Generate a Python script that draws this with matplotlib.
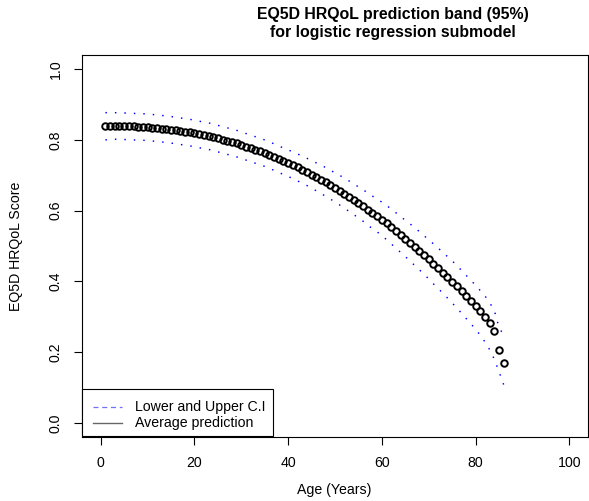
import matplotlib
matplotlib.use('Agg')
import matplotlib.pyplot as plt
from matplotlib.lines import Line2D
from matplotlib.patches import Rectangle

# ---- data ----
age = list(range(1, 87))
pred = [0.840, 0.840, 0.840, 0.839, 0.839, 0.839, 0.838, 0.837, 0.837, 0.836,
        0.835, 0.833, 0.832, 0.831, 0.829, 0.827, 0.825, 0.823, 0.821, 0.819,
        0.816, 0.813, 0.811, 0.808, 0.804, 0.801, 0.797, 0.794, 0.790, 0.786,
        0.781, 0.777, 0.772, 0.768, 0.763, 0.757, 0.752, 0.746, 0.740, 0.735,
        0.728, 0.722, 0.716, 0.709, 0.702, 0.694, 0.687, 0.680, 0.672, 0.664,
        0.656, 0.647, 0.639, 0.630, 0.621, 0.612, 0.602, 0.593, 0.584, 0.574,
        0.564, 0.553, 0.542, 0.531, 0.520, 0.509, 0.497, 0.486, 0.474, 0.462,
        0.449, 0.437, 0.425, 0.412, 0.399, 0.386, 0.372, 0.358, 0.344, 0.330,
        0.315, 0.300, 0.281, 0.259, 0.206, 0.169]
upper = [0.877, 0.877, 0.877, 0.876, 0.876, 0.876, 0.875, 0.874, 0.874, 0.873,
         0.872, 0.870, 0.869, 0.868, 0.866, 0.864, 0.862, 0.860, 0.858, 0.856,
         0.853, 0.850, 0.848, 0.845, 0.841, 0.838, 0.834, 0.831, 0.827, 0.823,
         0.818, 0.814, 0.809, 0.805, 0.800, 0.794, 0.789, 0.783, 0.777, 0.772,
         0.766, 0.760, 0.755, 0.748, 0.742, 0.735, 0.728, 0.722, 0.714, 0.707,
         0.700, 0.691, 0.684, 0.676, 0.667, 0.659, 0.650, 0.641, 0.633, 0.624,
         0.615, 0.604, 0.594, 0.583, 0.573, 0.563, 0.551, 0.541, 0.529, 0.518,
         0.506, 0.494, 0.483, 0.470, 0.458, 0.445, 0.431, 0.417, 0.403, 0.389,
         0.374, 0.359, 0.340, 0.318, 0.270, 0.248]
lower = [0.800, 0.801, 0.802, 0.801, 0.801, 0.801, 0.800, 0.799, 0.799, 0.798,
         0.797, 0.795, 0.794, 0.793, 0.791, 0.789, 0.787, 0.785, 0.783, 0.781,
         0.778, 0.775, 0.773, 0.770, 0.766, 0.763, 0.759, 0.756, 0.752, 0.748,
         0.743, 0.739, 0.734, 0.730, 0.725, 0.719, 0.714, 0.708, 0.702, 0.697,
         0.690, 0.684, 0.678, 0.671, 0.664, 0.656, 0.648, 0.641, 0.633, 0.624,
         0.616, 0.607, 0.598, 0.589, 0.579, 0.570, 0.559, 0.549, 0.540, 0.529,
         0.518, 0.506, 0.494, 0.482, 0.470, 0.458, 0.445, 0.433, 0.420, 0.407,
         0.393, 0.380, 0.367, 0.353, 0.339, 0.325, 0.310, 0.295, 0.280, 0.265,
         0.248, 0.229, 0.207, 0.180, 0.145, 0.108]
x_ticks = [0, 20, 40, 60, 80, 100]
x_tick_labels = ['0', '20', '40', '60', '80', '100']
y_ticks = [0.0, 0.2, 0.4, 0.6, 0.8, 1.0]
y_tick_labels = ['0.0', '0.2', '0.4', '0.6', '0.8', '1.0']
legend_labels = ['Lower and Upper C.I', 'Average prediction']
title_lines = ['EQ5D HRQoL prediction band (95%)', 'for logistic regression submodel']

plt.rcParams['font.family'] = ['Liberation Sans', 'DejaVu Sans']

W, H = 589, 501
FS = 10.2
fig = plt.figure(figsize=(W / 100, H / 100), dpi=100)
ax = fig.add_axes([82 / W, 1 - 437 / H, 506 / W, 382 / H])

dot = (0, (1, 5.5))
ax.plot(age, upper, color='#0000ff', lw=1.05, linestyle=dot)
ax.plot(age, lower, color='#0000ff', lw=1.05, linestyle=dot)
ax.plot(age, pred, 'o', mfc='none', mec='black', ms=4.7, mew=1.4)

ax.set_xlim(-4, 104)
ax.set_ylim(-0.04, 1.04)
ax.set_xticks(x_ticks)
ax.set_xticklabels(x_tick_labels)
ax.set_yticks(y_ticks)
ax.set_yticklabels(y_tick_labels, rotation=90, va='center')
ax.tick_params(direction='out', length=5.8, width=0.8, labelsize=FS, pad=7.9)
for s in ax.spines.values():
    s.set_linewidth(0.8)

# legend drawn as a box in figure pixel positions (R-style bottomleft legend)
def fx(px):
    return px / W

def fy(py):
    return 1 - py / H

fig.add_artist(Rectangle((fx(82), fy(436)), (273 - 82) / W, (436 - 389) / H,
                         transform=fig.transFigure, facecolor='white',
                         edgecolor='black', lw=0.8, zorder=5))
fig.add_artist(Line2D([fx(93), fx(122)], [fy(407), fy(407)], transform=fig.transFigure,
                      color='#7070ff', lw=0.9, linestyle=(0, (4, 3)), zorder=6))
fig.add_artist(Line2D([fx(93), fx(122)], [fy(423), fy(423)], transform=fig.transFigure,
                      color='#666666', lw=1.0, zorder=6))
fig.text(fx(135), fy(407), legend_labels[0], ha='left', va='center', fontsize=FS, zorder=7)
fig.text(fx(135), fy(423), legend_labels[1], ha='left', va='center', fontsize=FS, zorder=7)

fig.text(393 / W, 1 - 14 / H, title_lines[0], ha='center', va='center',
         fontsize=11.4, fontweight='bold')
fig.text(393 / W, 1 - 33 / H, title_lines[1], ha='center', va='center',
         fontsize=11.4, fontweight='bold')
fig.text(334 / W, 1 - 490 / H, 'Age (Years)', ha='center', va='center', fontsize=FS)
fig.text(16 / W, 1 - 246 / H, 'EQ5D HRQoL Score', ha='center', va='center',
         fontsize=FS, rotation=90)

fig.savefig('out.png', dpi=100)
